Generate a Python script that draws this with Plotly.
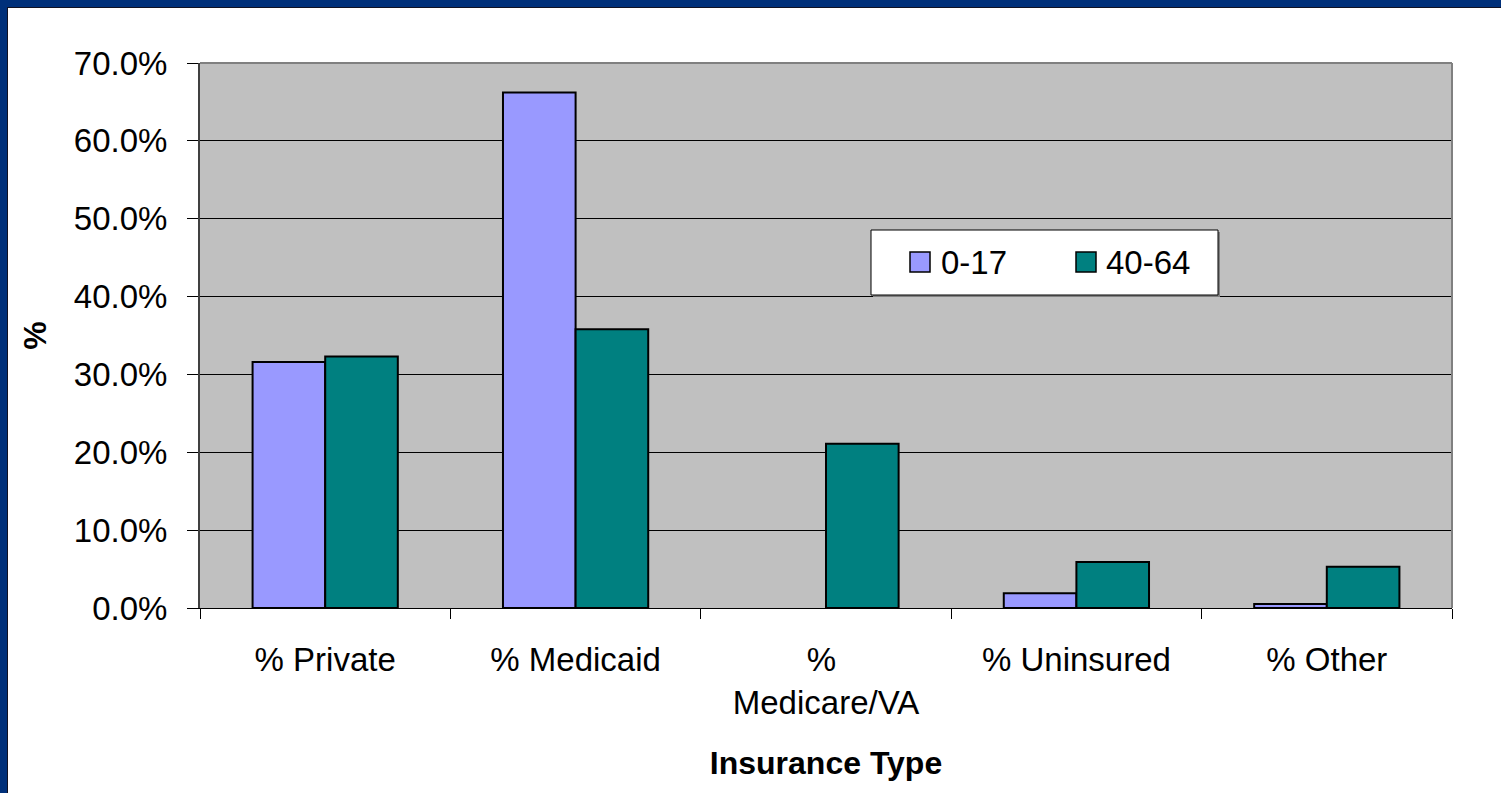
import plotly.graph_objects as go

# Insurance coverage share by age group
categories = ["% Private", "% Medicaid", "% <br>Medicare/VA", "% Uninsured", "% Other"]
age_0_17 = [31.6, 66.2, 0.0, 1.9, 0.5]
age_40_64 = [32.3, 35.8, 21.1, 5.9, 5.3]
y_ticks = [0, 10, 20, 30, 40, 50, 60, 70]
y_tick_labels = [f"{v:.1f}%" for v in y_ticks]

W, H = 1501, 793
ML, MR, MT, MB = 200, 49, 63, 185
PW, PH = W - ML - MR, H - MT - MB


def px_x(x):
    return (x - ML) / PW


def px_y(y):
    return (H - MB - y) / PH


def outline_widths(values):
    # zero-height bars get no outline
    return [2 if v > 0 else 0 for v in values]


FONT = "Liberation Sans, Arial, sans-serif"
C1 = "#9999FF"
C2 = "#008080"
FRAME = "#00307A"

fig = go.Figure()
fig.add_trace(go.Bar(x=categories, y=age_0_17, name="0-17",
                     marker=dict(color=C1, line=dict(color="black", width=outline_widths(age_0_17))),
                     showlegend=False))
fig.add_trace(go.Bar(x=categories, y=age_40_64, name="40-64",
                     marker=dict(color=C2, line=dict(color="black", width=outline_widths(age_40_64))),
                     showlegend=False))

shapes = [
    # slide frame bands
    dict(type="rect", xref="paper", yref="paper", x0=px_x(0), x1=px_x(W), y0=px_y(7), y1=px_y(0),
         fillcolor=FRAME, line=dict(width=0), layer="above"),
    dict(type="rect", xref="paper", yref="paper", x0=px_x(0), x1=px_x(7), y0=px_y(H), y1=px_y(0),
         fillcolor=FRAME, line=dict(width=0), layer="above"),
    dict(type="line", xref="paper", yref="paper", x0=px_x(7), x1=px_x(W), y0=px_y(7.5), y1=px_y(7.5),
         line=dict(color="#111122", width=1), layer="above"),
    dict(type="line", xref="paper", yref="paper", x0=px_x(7.5), x1=px_x(7.5), y0=px_y(H), y1=px_y(7),
         line=dict(color="#111122", width=1), layer="above"),
    # plot area border (top/right)
    dict(type="line", xref="paper", yref="paper", x0=0, x1=1, y0=1, y1=1,
         line=dict(color="#808080", width=2), layer="above"),
    dict(type="line", xref="paper", yref="paper", x0=1, x1=1, y0=0, y1=1,
         line=dict(color="#808080", width=2), layer="above"),
    # legend box
    dict(type="rect", xref="paper", yref="paper", x0=px_x(873), x1=px_x(1220), y0=px_y(297), y1=px_y(232),
         fillcolor="#808080", line=dict(width=0), layer="above"),
    dict(type="rect", xref="paper", yref="paper", x0=px_x(871), x1=px_x(1218), y0=px_y(295), y1=px_y(230),
         fillcolor="white", line=dict(color="black", width=1), layer="above"),
    dict(type="rect", xref="paper", yref="paper", x0=px_x(910), x1=px_x(930), y0=px_y(272), y1=px_y(252),
         fillcolor=C1, line=dict(color="black", width=1.5), layer="above"),
    dict(type="rect", xref="paper", yref="paper", x0=px_x(1076), x1=px_x(1096), y0=px_y(272), y1=px_y(252),
         fillcolor=C2, line=dict(color="black", width=1.5), layer="above"),
]

annotations = [
    dict(text="0-17", xref="paper", yref="paper", x=px_x(939), y=px_y(262), xanchor="left",
         yanchor="middle", showarrow=False, font=dict(family=FONT, size=33, color="black")),
    dict(text="40-64", xref="paper", yref="paper", x=px_x(1104), y=px_y(262), xanchor="left",
         yanchor="middle", showarrow=False, font=dict(family=FONT, size=33, color="black")),
]

fig.update_layout(
    width=W, height=H,
    margin=dict(l=ML, r=MR, t=MT, b=MB),
    paper_bgcolor="white",
    plot_bgcolor="#C0C0C0",
    barmode="group",
    bargap=0.42,
    bargroupgap=0,
    font=dict(family=FONT, size=33, color="black"),
    shapes=shapes,
    annotations=annotations,
    xaxis=dict(
        tickson="boundaries", ticks="outside", ticklen=10, tickcolor="black", tickwidth=1,
        showline=True, linecolor="black", linewidth=1,
        showgrid=False,
        tickfont=dict(family=FONT, size=33),
        ticklabelstandoff=22,
        title=dict(text="<b>Insurance Type</b>", font=dict(family=FONT, size=32), standoff=32),
    ),
    yaxis=dict(
        range=[0, 70], tickvals=y_ticks, ticktext=y_tick_labels,
        ticks="outside", ticklen=11, tickcolor="black", tickwidth=1,
        showline=True, linecolor="#404040", linewidth=2,
        showgrid=True, gridcolor="black", gridwidth=1,
        zeroline=False,
        tickfont=dict(family=FONT, size=33),
        ticklabelstandoff=13,
        title=dict(text="<b>%</b>", font=dict(family=FONT, size=32), standoff=18),
    ),
)

fig.write_html("out.html")
